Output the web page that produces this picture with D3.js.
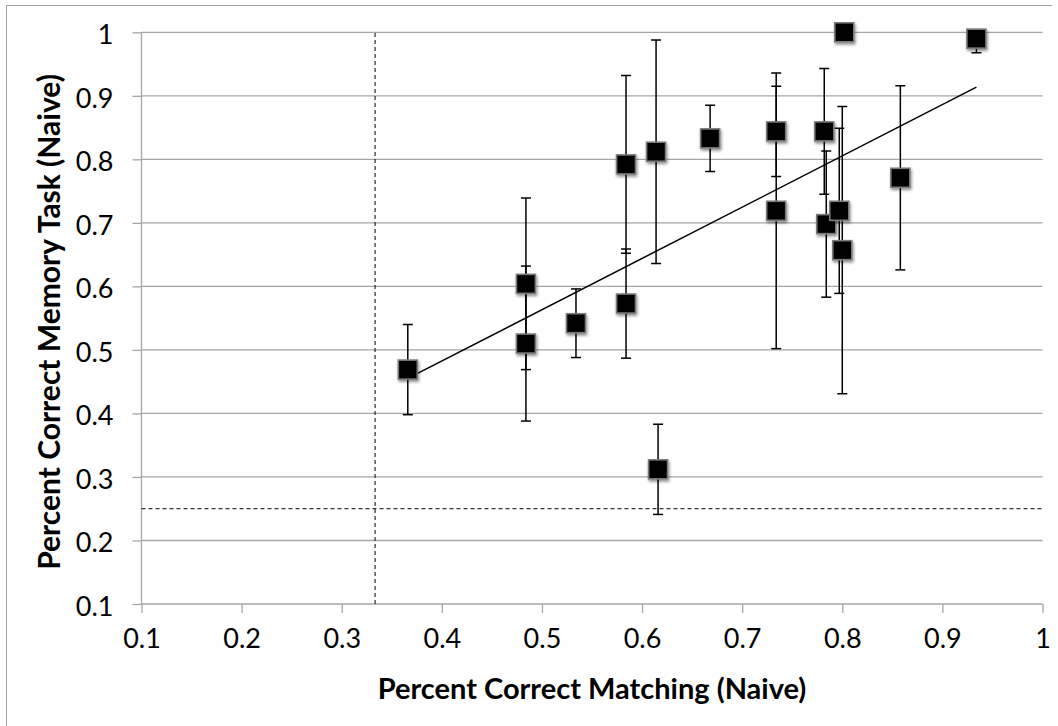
<!DOCTYPE html>
<html>
<head>
	<meta charset="UTF-8" />
	<title>Matching vs Memory (Naive)</title>
	<script src="https://d3js.org/d3.v7.min.js"></script>
	<style>
		body { margin: 0; background: #fff; }
		text { font-family: Lato, "Open Sans", sans-serif; fill: #000; }
	</style>
</head>
<body>
	<div id="main"></div>
	<script type="text/javascript">

		// percent correct, matching task (x)
		var matching = [0.366, 0.484, 0.484, 0.534, 0.584, 0.584, 0.614, 0.668, 0.734,
		                0.734, 0.782, 0.784, 0.797, 0.800, 0.802, 0.858, 0.934, 0.616];
		// percent correct, memory task (y)
		var memory   = [0.469, 0.604, 0.510, 0.542, 0.573, 0.792, 0.812, 0.833, 0.844,
		                0.719, 0.844, 0.698, 0.719, 0.657, 1.000, 0.771, 0.990, 0.312];
		// error bar half-widths (y)
		var errors   = [0.071, 0.135, 0.122, 0.054, 0.086, 0.140, 0.176, 0.052, 0.071,
		                0.217, 0.099, 0.115, 0.130, 0.226, 0.000, 0.145, 0.022, 0.071];

		var tickValues = [0.1, 0.2, 0.3, 0.4, 0.5, 0.6, 0.7, 0.8, 0.9, 1];
		var chanceMatching = 1 / 3;
		var chanceMemory = 0.25;

		var width = 1058;
		var height = 726;

		var svg = d3.select('#main')
								.append('svg')
								.attr('width', width)
								.attr('height', height);

		var defs = svg.append('defs');
		var shadow = defs.append('filter')
								.attr('id', 'shadow')
								.attr('x', '-50%').attr('y', '-50%')
								.attr('width', '200%').attr('height', '200%');
		shadow.append('feDropShadow')
					.attr('dx', 1).attr('dy', 2)
					.attr('stdDeviation', 1.6)
					.attr('flood-color', '#000')
					.attr('flood-opacity', 0.45);

		// chart border (only top and left fall inside the picture)
		svg.append('path')
				.attr('d', 'M6.5,' + height + 'V5.5H1052')
				.attr('fill', 'none')
				.attr('stroke', '#a0a0a0')
				.attr('stroke-width', 1);

		var x = d3.scaleLinear().domain([0.1, 1]).range([141.5, 1042.5]);
		var y = d3.scaleLinear().domain([0.1, 1]).range([604, 32.3]);

		defs.append('clipPath').attr('id', 'plotclip')
				.append('rect')
				.attr('x', x(0.1)).attr('y', y(1))
				.attr('width', x(1) - x(0.1)).attr('height', y(0.1) - y(1));

		// horizontal gridlines
		svg.append('g')
				.selectAll('line')
				.data(tickValues.slice(1))
				.enter()
				.append('line')
				.attr('x1', x(0.1)).attr('x2', x(1))
				.attr('y1', function(d){ return y(d); })
				.attr('y2', function(d){ return y(d); })
				.attr('stroke', '#a6a6a6')
				.attr('stroke-width', 1.3);

		// axes
		var xAxis = d3.axisBottom(x).tickValues(tickValues).tickSize(9).tickPadding(9)
									.tickFormat(d3.format('~g'));
		var yAxis = d3.axisLeft(y).tickValues(tickValues).tickSize(9).tickPadding(19)
									.tickFormat(d3.format('~g'));

		var gx = svg.append('g').attr('transform', 'translate(0,' + y(0.1) + ')').call(xAxis);
		var gy = svg.append('g').attr('transform', 'translate(' + x(0.1) + ',0)').call(yAxis);

		[gx, gy].forEach(function(g){
			g.select('.domain').attr('stroke', '#a6a6a6').attr('stroke-width', 1.3);
			g.selectAll('.tick line').attr('stroke', '#a6a6a6').attr('stroke-width', 1.3);
			g.selectAll('.tick text')
				.style('font-family', 'Lato, "Open Sans", sans-serif')
				.style('font-size', '27px')
				.attr('fill', '#000');
		});
		gy.select('.domain').attr('d', 'M0,' + y(0.1) + 'V' + y(1));
		gx.select('.domain').attr('d', 'M' + x(0.1) + ',0H' + x(1));
		gy.selectAll('.tick text').attr('dy', '0.42em');
		gx.selectAll('.tick text').attr('dy', '0.95em');

		// chance lines
		svg.append('line')
				.attr('x1', x(chanceMatching)).attr('x2', x(chanceMatching))
				.attr('y1', y(0.1)).attr('y2', y(1))
				.attr('stroke', '#000').attr('stroke-width', 1)
				.attr('stroke-dasharray', '4,3');
		svg.append('line')
				.attr('x1', x(0.1)).attr('x2', x(1))
				.attr('y1', y(chanceMemory)).attr('y2', y(chanceMemory))
				.attr('stroke', '#000').attr('stroke-width', 1)
				.attr('stroke-dasharray', '4,3');

		var points = matching.map(function(m, i){
			return { x: m, y: memory[i], e: errors[i] };
		});

		// error bars
		var eb = svg.append('g').attr('clip-path', 'url(#plotclip)')
								.selectAll('g')
								.data(points.filter(function(d){ return d.e > 0; }))
								.enter()
								.append('g')
								.attr('stroke', '#000')
								.attr('stroke-width', 1.5);
		eb.append('line')
				.attr('x1', function(d){ return x(d.x); })
				.attr('x2', function(d){ return x(d.x); })
				.attr('y1', function(d){ return y(d.y - d.e); })
				.attr('y2', function(d){ return y(d.y + d.e); });
		eb.append('line')
				.attr('x1', function(d){ return x(d.x) - 5; })
				.attr('x2', function(d){ return x(d.x) + 5; })
				.attr('y1', function(d){ return y(d.y - d.e); })
				.attr('y2', function(d){ return y(d.y - d.e); });
		eb.append('line')
				.attr('x1', function(d){ return x(d.x) - 5; })
				.attr('x2', function(d){ return x(d.x) + 5; })
				.attr('y1', function(d){ return y(d.y + d.e); })
				.attr('y2', function(d){ return y(d.y + d.e); });

		// linear trendline (least squares)
		var mx = d3.mean(matching), my = d3.mean(memory);
		var sxy = d3.sum(points, function(d){ return (d.x - mx) * (d.y - my); });
		var sxx = d3.sum(points, function(d){ return (d.x - mx) * (d.x - mx); });
		var slope = sxy / sxx;
		var intercept = my - slope * mx;
		var xr = d3.extent(matching);
		svg.append('path')
				.datum(xr.map(function(v){ return [v, intercept + slope * v]; }))
				.attr('d', d3.line().x(function(d){ return x(d[0]); }).y(function(d){ return y(d[1]); }))
				.attr('fill', 'none')
				.attr('stroke', '#000')
				.attr('stroke-width', 1.5);

		// markers
		svg.append('g')
				.selectAll('rect')
				.data(points)
				.enter()
				.append('rect')
				.attr('x', function(d){ return x(d.x) - 9.5; })
				.attr('y', function(d){ return y(d.y) - 9.5; })
				.attr('width', 19)
				.attr('height', 19)
				.attr('fill', '#000')
				.attr('stroke', '#7a7a7a')
				.attr('stroke-width', 1.6)
				.attr('filter', 'url(#shadow)');

		// axis titles
		svg.append('text')
				.attr('x', 592)
				.attr('y', 699)
				.attr('text-anchor', 'middle')
				.style('font-size', '29px')
				.style('font-weight', 'bold')
				.text('Percent Correct Matching (Naive)');

		svg.append('text')
				.attr('transform', 'translate(60,322) rotate(-90)')
				.attr('text-anchor', 'middle')
				.style('font-size', '30px')
				.style('font-weight', 'bold')
				.text('Percent Correct Memory Task (Naive)');

	</script>
</body>
</html>
